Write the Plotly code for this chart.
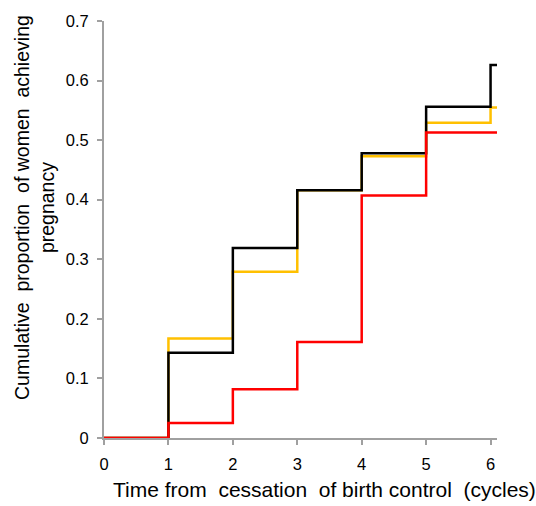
import plotly.graph_objects as go

cycles = [0, 1, 2, 3, 4, 5, 6, 6.1]
gold_vals = [0, 0.167, 0.279, 0.416, 0.473, 0.529, 0.555, 0.555]
black_vals = [0, 0.143, 0.319, 0.416, 0.478, 0.556, 0.626, 0.626]
red_vals = [0, 0.025, 0.082, 0.161, 0.407, 0.513, 0.513, 0.513]

series = [
    ("Gold", gold_vals, "#FFC000"),
    ("Black", black_vals, "#000000"),
    ("Red", red_vals, "#FF0000"),
]

fig = go.Figure()
for name, vals, col in series:
    fig.add_trace(go.Scatter(x=cycles, y=vals, mode="lines", name=name,
                             line=dict(color=col, width=2.5, shape="hv"),
                             showlegend=False))

font = "Liberation Sans, Arial, sans-serif"
fig.update_layout(
    width=536, height=506,
    margin=dict(l=104, r=39, t=12, b=68),
    plot_bgcolor="white", paper_bgcolor="white",
    font=dict(family=font, size=16, color="#000"),
    xaxis=dict(range=[0, 6.1], tickvals=[0, 1, 2, 3, 4, 5, 6], showgrid=False,
               zeroline=False, showline=True, linecolor="#A0A0A0", linewidth=2,
               ticks="outside", ticklen=5, tickcolor="#A0A0A0", tickwidth=2,
               tickfont=dict(size=16.5), ticklabelstandoff=5),
    yaxis=dict(range=[0, 0.7], tickvals=[0, 0.1, 0.2, 0.3, 0.4, 0.5, 0.6, 0.7],
               ticktext=["0", "0.1", "0.2", "0.3", "0.4", "0.5", "0.6", "0.7"],
               showgrid=False, zeroline=False, showline=True, linecolor="#A0A0A0",
               linewidth=2, ticks="outside", ticklen=5, tickcolor="#A0A0A0",
               tickwidth=2, tickfont=dict(size=16.5), ticklabelstandoff=5),
    annotations=[
        dict(text="Time from  cessation  of birth control  (cycles)",
             xref="paper", yref="paper", x=(111 - 104) / 393, y=-(491 - 438) / 426,
             xanchor="left", yanchor="middle", showarrow=False,
             font=dict(size=21, family=font)),
        dict(text="Cumulative  proportion  of women  achieving<br>pregnancy",
             xref="paper", yref="paper", x=-(104 - 35) / 393, y=(438 - 203) / 426,
             xanchor="center", yanchor="middle", showarrow=False, textangle=-90,
             font=dict(size=19.5, family=font)),
    ],
)

fig.write_html("out.html")
